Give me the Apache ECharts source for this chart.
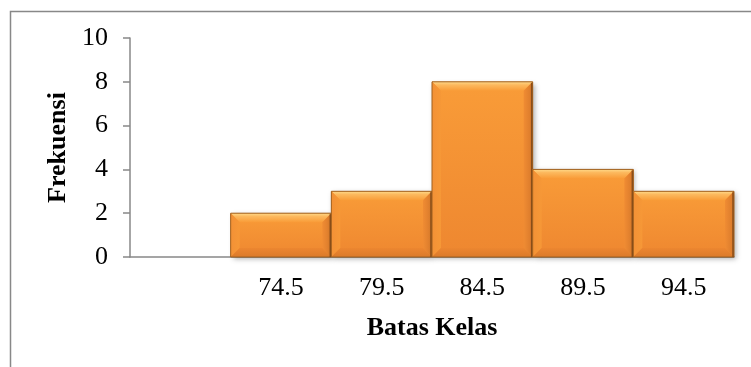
<!DOCTYPE html>
<html>
<head>
<meta charset="utf-8">
<script src="https://cdn.jsdelivr.net/npm/echarts@6/dist/echarts.min.js"></script>
<style>
  html, body { margin: 0; padding: 0; background: #fff; }
  #chart { width: 751px; height: 367px; }
</style>
</head>
<body>
<div id="chart"></div>
<script>
// Class boundaries (first slot is an empty class) and their frequencies
const classLabels = ['', '74.5', '79.5', '84.5', '89.5', '94.5'];
const frequencies = [null, 2, 3, 8, 4, 3];
const yTicks = { min: 0, max: 10, step: 2 };

const barData = frequencies
  .map((v, i) => [i, v])
  .filter(d => d[1] !== null);

const chart = echarts.init(document.getElementById('chart'), null, { renderer: 'canvas' });

// Bevelled bar: face + four edge facets + dark outline
function renderBevelBar(params, api) {
  const idx = api.value(0);
  const val = api.value(1);
  const top = api.coord([idx, val]);
  const base = api.coord([idx, 0]);
  const w = api.size([1, 0])[0];
  const x0 = top[0] - w / 2, x1 = top[0] + w / 2;
  const y0 = top[1], y1 = base[1];
  const b = Math.min(9, (y1 - y0) / 2);
  const faceGrad = new echarts.graphic.LinearGradient(0, 0, 0, 1, [
    { offset: 0, color: '#F99C38' },
    { offset: 1, color: '#EE8730' }
  ]);
  return {
    type: 'group',
    children: [
      { type: 'rect', shape: { x: x0, y: y0, width: w, height: y1 - y0 },
        style: { fill: faceGrad, shadowBlur: 5, shadowOffsetX: 2, shadowOffsetY: 2, shadowColor: 'rgba(0,0,0,0.3)' } },
      { type: 'polygon', shape: { points: [[x0, y0], [x1, y0], [x1 - b, y0 + b], [x0 + b, y0 + b]] },
        style: { fill: new echarts.graphic.LinearGradient(0, 0, 0, 1, [
          { offset: 0, color: '#FFDA8A' }, { offset: 0.35, color: '#FCB95E' }, { offset: 1, color: '#F99C38' }]) } },
      { type: 'polygon', shape: { points: [[x0, y0], [x0 + b, y0 + b], [x0 + b, y1 - b], [x0, y1]] },
        style: { fill: new echarts.graphic.LinearGradient(0, 0, 1, 0, [
          { offset: 0, color: '#F39136' }, { offset: 1, color: '#F69837' }]) } },
      { type: 'polygon', shape: { points: [[x1, y0], [x1, y1], [x1 - b, y1 - b], [x1 - b, y0 + b]] },
        style: { fill: new echarts.graphic.LinearGradient(0, 0, 1, 0, [
          { offset: 0, color: '#F08C33' }, { offset: 1, color: '#D7782A' }]) } },
      { type: 'polygon', shape: { points: [[x0, y1], [x0 + b, y1 - b], [x1 - b, y1 - b], [x1, y1]] },
        style: { fill: new echarts.graphic.LinearGradient(0, 0, 0, 1, [
          { offset: 0, color: '#EC8630' }, { offset: 1, color: '#DB7A2A' }]) } },
      { type: 'rect', shape: { x: x0, y: y0, width: w, height: y1 - y0 },
        style: { fill: 'none', stroke: '#A0601F', lineWidth: 1 } },
      { type: 'line', shape: { x1: x1 - 1, y1: y0 + 1, x2: x1 - 1, y2: y1 },
        style: { stroke: '#8A4E18', lineWidth: 1.5 } }
    ]
  };
}

const serif = '"Liberation Serif", "Times New Roman", serif';

chart.setOption({
  animation: false,
  graphic: [{
    type: 'rect', left: 8, top: 9, z: 0,
    shape: { width: 760, height: 420 },
    style: { fill: 'none', stroke: '#888888', lineWidth: 1.5 }
  }],
  grid: { left: 130, right: 17, top: 38, bottom: 110 },
  xAxis: {
    type: 'category',
    data: classLabels,
    name: 'Batas Kelas',
    nameLocation: 'middle',
    nameGap: 58,
    nameTextStyle: { fontFamily: serif, fontSize: 26, fontWeight: 'bold', color: '#000' },
    axisLine: { lineStyle: { color: '#888888', width: 1.5 } },
    axisTick: { show: false },
    axisLabel: { fontFamily: serif, fontSize: 26, color: '#000', margin: 18 },
    splitLine: { show: false }
  },
  yAxis: {
    type: 'value',
    min: yTicks.min, max: yTicks.max, interval: yTicks.step,
    name: 'Frekuensi',
    nameLocation: 'middle',
    nameGap: 59,
    nameTextStyle: { fontFamily: serif, fontSize: 26, fontWeight: 'bold', color: '#000' },
    axisLine: { show: true, lineStyle: { color: '#888888', width: 1.5 } },
    axisTick: { show: true, length: 7, lineStyle: { color: '#888888', width: 1.5 } },
    axisLabel: { fontFamily: serif, fontSize: 26, color: '#000', margin: 22 },
    splitLine: { show: false }
  },
  series: [{
    type: 'custom',
    renderItem: renderBevelBar,
    encode: { x: 0, y: 1 },
    data: barData
  }]
});
</script>
</body>
</html>
